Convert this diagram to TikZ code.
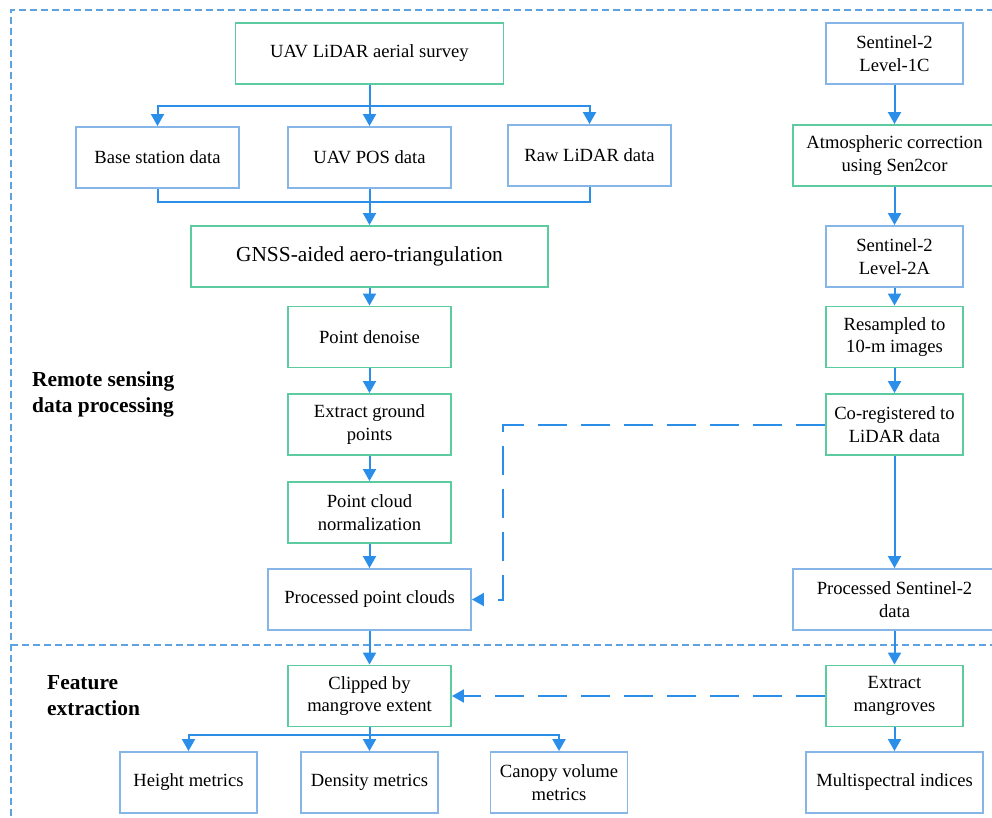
\documentclass[tikz,border=0pt]{standalone}
\usepackage{fontspec}
\setmainfont{Liberation Serif}
\usetikzlibrary{arrows.meta}
\definecolor{gbox}{HTML}{5CCB9F}
\definecolor{bbox}{HTML}{86B6E8}
\definecolor{arrc}{HTML}{2B8FEA}
\definecolor{framec}{HTML}{5FA2E2}
\tikzset{
  box/.style={draw, line width=1.9pt, fill=white, inner sep=0pt, align=center,
    minimum height=61pt, font=\fontsize{18.6}{22.6}\selectfont},
  gb/.style={box, draw=gbox},
  bb/.style={box, draw=bbox},
  conn/.style={draw=arrc, line width=2pt},
  arr/.style={conn, -{Triangle[length=12pt,width=13pt]}},
  darr/.style={arr, dash pattern=on 29pt off 14pt},
  seclabel/.style={anchor=west, align=left, inner sep=0pt, font=\fontsize{21.4}{26}\selectfont\bfseries},
}
\begin{document}
\begin{tikzpicture}[x=1pt,y=-1pt]
\useasboundingbox (0,0) rectangle (992,818);
\clip (0,0) rectangle (992,818);
% frame
\draw[framec, line width=1.3pt, dash pattern=on 7pt off 4pt] (1005,10) -- (11,10) -- (11,830);
\draw[framec, line width=1.3pt, dash pattern=on 7pt off 4pt] (11,645) -- (1005,645);
% labels
\node[seclabel] (lab1) at (32,394.7) {Remote sensing\\data processing};
\node[seclabel] (lab2) at (47,695.5) {Feature\\extraction};
% left column
\node[gb, minimum width=268pt] (survey) at (369.5,53.5) {UAV LiDAR aerial survey};
\node[bb, minimum width=163pt] (base) at (157.5,157.5) {Base station data};
\node[bb, minimum width=163pt] (pos) at (369.5,157.5) {UAV POS data};
\node[bb, minimum width=163pt] (raw) at (589.5,155.5) {Raw LiDAR data};
\node[gb, minimum width=357pt, font=\fontsize{21.4}{25}\selectfont] (gnss) at (369.5,256.5) {GNSS-aided aero-triangulation};
\node[gb, minimum width=163pt] (denoise) at (369.5,337) {Point denoise};
\node[gb, minimum width=163pt] (ground) at (369.5,424.5) {Extract ground\\points};
\node[gb, minimum width=163pt] (norm) at (369.5,512.5) {Point cloud\\normalization};
\node[bb, minimum width=203pt] (ppc) at (369.5,599.5) {Processed point clouds};
\node[gb, minimum width=163pt] (clip) at (369.5,696) {Clipped by\\mangrove extent};
\node[bb, minimum width=137pt] (height) at (188.5,782.5) {Height metrics};
\node[bb, minimum width=137pt] (density) at (369.5,782.5) {Density metrics};
\node[bb, minimum width=137pt] (canopy) at (559,782.5) {Canopy volume\\metrics};
% right column
\node[bb, minimum width=137pt] (s1c) at (894.5,53.5) {Sentinel-2\\Level-1C};
\node[gb, minimum width=203pt] (atm) at (894.5,155.5) {Atmospheric correction\\using Sen2cor};
\node[bb, minimum width=137pt] (s2a) at (894.5,256.5) {Sentinel-2\\Level-2A};
\node[gb, minimum width=137pt] (resamp) at (894.5,337) {Resampled to\\10-m images};
\node[gb, minimum width=137pt] (coreg) at (894.5,424.5) {Co-registered to\\LiDAR data};
\node[bb, minimum width=203pt] (ps2) at (894.5,599.5) {Processed Sentinel-2\\data};
\node[gb, minimum width=137pt] (extm) at (894.5,696) {Extract\\mangroves};
\node[bb, minimum width=177pt] (msi) at (894.5,782.5) {Multispectral indices};
% connectors left
\coordinate (br1) at (369.5,106);
\coordinate (mg) at (369.5,202);
\coordinate (br2) at (369.5,735);
\coordinate (dk) at (503,424.5);
\draw[conn] (survey.south) -- (br1);
\draw[arr] (br1) -| (base.north);
\draw[arr] (br1) -- (pos.north);
\draw[arr] (br1) -| (raw.north);
\draw[conn] (base.south) |- (mg) -| (raw.south);
\draw[arr] (pos.south) -- (gnss.north);
\draw[arr] (gnss.south) -- (denoise.north);
\draw[arr] (denoise.south) -- (ground.north);
\draw[arr] (ground.south) -- (norm.north);
\draw[arr] (norm.south) -- (ppc.north);
\draw[arr] (ppc.south) -- (clip.north);
\draw[conn] (clip.south) -- (br2);
\draw[arr] (br2) -| (height.north);
\draw[arr] (br2) -- (density.north);
\draw[arr] (br2) -| (canopy.north);
% connectors right
\draw[arr] (s1c.south) -- (atm.north);
\draw[arr] (atm.south) -- (s2a.north);
\draw[arr] (s2a.south) -- (resamp.north);
\draw[arr] (resamp.south) -- (coreg.north);
\draw[arr] (coreg.south) -- (ps2.north);
\draw[arr] (ps2.south) -- (extm.north);
\draw[arr] (extm.south) -- (msi.north);
% dashed
\draw[darr] (coreg.west) -- (dk) |- (ppc.east);
\draw[darr] (extm.west) -- (clip.east);
\end{tikzpicture}
\end{document}
